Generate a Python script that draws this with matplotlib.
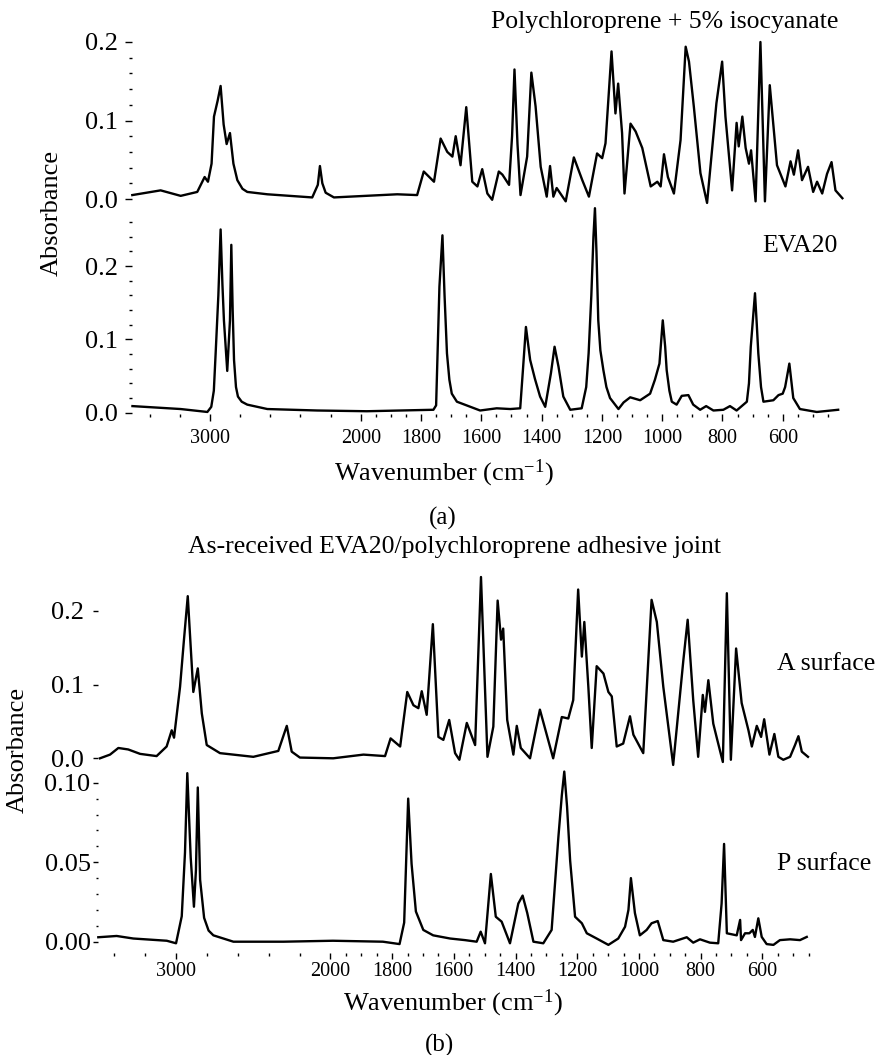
import numpy as np
import matplotlib
matplotlib.use('Agg')
import matplotlib.pyplot as plt
from matplotlib.ticker import FixedLocator, FuncFormatter, MultipleLocator, NullLocator

plt.rcParams['font.family'] = ['Liberation Serif', 'DejaVu Serif']
plt.rcParams['mathtext.fontset'] = 'custom'
plt.rcParams['mathtext.rm'] = 'Liberation Serif'
plt.rcParams['mathtext.it'] = 'Liberation Serif:italic'

# (a) polychloroprene + 5% isocyanate
pc_wn = [
    3516, 3328, 3195, 3085, 3036, 3014, 2990, 2974, 2950, 2930,
    2910, 2890, 2868, 2845, 2819, 2785, 2753, 2620, 2322, 2285,
    2271, 2255, 2233, 2178, 1879, 1813, 1791, 1757, 1735, 1713,
    1696, 1685, 1669, 1650, 1630, 1613, 1597, 1580, 1564, 1542,
    1530, 1508, 1498, 1490, 1480, 1470, 1448, 1434, 1420, 1403,
    1383, 1372, 1361, 1350, 1320, 1293, 1265, 1243, 1216, 1199,
    1188, 1168, 1155, 1146, 1133, 1125, 1105, 1088, 1066, 1038,
    1016, 1005, 994, 981, 961, 939, 922, 911, 895, 873,
    851, 820, 801, 790, 768, 753, 746, 734, 723, 712,
    705, 690, 674, 659, 643, 619, 591, 574, 563, 549,
    536, 516, 499, 486, 469, 453, 438, 425, 402]
pc_abs = [
    0.005, 0.011, 0.004, 0.009, 0.028, 0.022, 0.045, 0.105, 0.125, 0.144,
    0.095, 0.070, 0.084, 0.045, 0.024, 0.013, 0.009, 0.006, 0.002, 0.018,
    0.042, 0.020, 0.008, 0.002, 0.006, 0.005, 0.035, 0.022, 0.077, 0.060,
    0.054, 0.080, 0.043, 0.117, 0.022, 0.016, 0.038, 0.007, -0.001, 0.035,
    0.031, 0.018, 0.080, 0.165, 0.070, 0.005, 0.054, 0.161, 0.118, 0.041,
    0.003, 0.042, 0.003, 0.014, -0.003, 0.053, 0.024, 0.003, 0.058, 0.052,
    0.071, 0.188, 0.109, 0.147, 0.084, 0.007, 0.096, 0.086, 0.065, 0.016,
    0.022, 0.016, 0.057, 0.028, 0.007, 0.075, 0.194, 0.175, 0.118, 0.033,
    -0.005, 0.122, 0.175, 0.105, 0.011, 0.097, 0.067, 0.105, 0.065, 0.045,
    0.062, -0.003, 0.200, -0.003, 0.145, 0.043, 0.016, 0.048, 0.031, 0.062,
    0.024, 0.041, 0.009, 0.022, 0.007, 0.032, 0.047, 0.011, 0.001]

# (a) EVA20
eva_wn = [
    3515, 3195, 3018, 2992, 2975, 2963, 2945, 2930, 2918, 2908,
    2886, 2868, 2859, 2850, 2841, 2828, 2815, 2790, 2753, 2620,
    2289, 1980, 1759, 1750, 1739, 1729, 1722, 1714, 1706, 1698,
    1681, 1604, 1549, 1504, 1471, 1462, 1452, 1438, 1422, 1405,
    1388, 1369, 1357, 1344, 1328, 1305, 1267, 1252, 1244, 1235,
    1228, 1223, 1218, 1212, 1205, 1195, 1185, 1173, 1145, 1128,
    1106, 1073, 1040, 1024, 1009, 998, 990, 985, 976, 968,
    952, 935, 913, 897, 874, 854, 830, 797, 775, 753,
    719, 712, 706, 692, 686, 681, 672, 664, 631, 614,
    600, 592, 578, 565, 543, 487, 416]
eva_abs = [
    0.009, 0.005, 0.001, 0.008, 0.030, 0.081, 0.160, 0.250, 0.175, 0.126,
    0.057, 0.126, 0.229, 0.140, 0.072, 0.035, 0.022, 0.015, 0.011, 0.005,
    0.003, 0.002, 0.004, 0.010, 0.172, 0.242, 0.160, 0.081, 0.045, 0.026,
    0.015, 0.003, 0.006, 0.005, 0.006, 0.058, 0.117, 0.072, 0.046, 0.022,
    0.008, 0.054, 0.090, 0.063, 0.022, 0.004, 0.006, 0.035, 0.081, 0.160,
    0.240, 0.279, 0.220, 0.126, 0.085, 0.058, 0.035, 0.020, 0.005, 0.014,
    0.021, 0.017, 0.026, 0.045, 0.067, 0.126, 0.090, 0.058, 0.030, 0.015,
    0.011, 0.023, 0.024, 0.011, 0.004, 0.009, 0.003, 0.004, 0.009, 0.003,
    0.015, 0.040, 0.090, 0.163, 0.120, 0.081, 0.035, 0.015, 0.017, 0.024,
    0.026, 0.035, 0.067, 0.020, 0.005, 0.001, 0.004]

# (b) A surface
as_wn = [
    3494, 3429, 3375, 3311, 3234, 3127, 3062, 3029, 3014, 2975,
    2950, 2925, 2889, 2860, 2834, 2802, 2716, 2500, 2338, 2283,
    2251, 2198, 1991, 1893, 1823, 1805, 1774, 1751, 1731, 1715,
    1704, 1688, 1668, 1650, 1634, 1615, 1596, 1582, 1558, 1531,
    1512, 1491, 1472, 1458, 1447, 1440, 1427, 1407, 1396, 1383,
    1353, 1321, 1278, 1250, 1229, 1213, 1197, 1185, 1177, 1164,
    1153, 1137, 1115, 1099, 1088, 1072, 1051, 1029, 1018, 986,
    959, 942, 921, 889, 856, 842, 824, 808, 793, 786,
    775, 759, 746, 728, 715, 702, 685, 667, 645, 634,
    618, 604, 594, 577, 561, 548, 532, 510, 494, 483,
    472, 452]
as_abs = [
    0.000, 0.005, 0.014, 0.012, 0.006, 0.003, 0.016, 0.038, 0.028, 0.097,
    0.160, 0.220, 0.090, 0.122, 0.061, 0.018, 0.007, 0.002, 0.010, 0.044,
    0.009, 0.001, 0.000, 0.005, 0.003, 0.027, 0.016, 0.090, 0.072, 0.068,
    0.091, 0.059, 0.182, 0.029, 0.025, 0.052, 0.007, -0.002, 0.048, 0.018,
    0.246, 0.002, 0.043, 0.214, 0.161, 0.176, 0.052, 0.005, 0.044, 0.014,
    0.000, 0.066, 0.000, 0.056, 0.054, 0.079, 0.229, 0.138, 0.185, 0.097,
    0.014, 0.125, 0.115, 0.090, 0.084, 0.016, 0.020, 0.057, 0.032, 0.007,
    0.215, 0.185, 0.097, -0.009, 0.133, 0.188, 0.079, 0.002, 0.086, 0.063,
    0.106, 0.047, 0.025, -0.005, 0.224, -0.002, 0.149, 0.075, 0.038, 0.016,
    0.044, 0.029, 0.053, 0.005, 0.033, 0.002, -0.002, 0.002, 0.018, 0.030,
    0.009, 0.002]

# (b) P surface
ps_wn = [
    3505, 3386, 3278, 3061, 3001, 2964, 2943, 2928, 2906, 2885,
    2872, 2860, 2845, 2819, 2790, 2759, 2629, 2305, 1992, 1830,
    1776, 1761, 1748, 1737, 1723, 1699, 1667, 1612, 1564, 1526,
    1513, 1499, 1480, 1464, 1445, 1418, 1391, 1377, 1362, 1342,
    1310, 1283, 1261, 1250, 1242, 1233, 1223, 1207, 1185, 1169,
    1137, 1099, 1067, 1045, 1034, 1026, 1013, 997, 975, 959,
    939, 921, 889, 845, 824, 802, 770, 743, 732, 724,
    715, 683, 672, 669, 656, 642, 631, 624, 613, 602,
    586, 564, 543, 510, 478, 456]
ps_abs = [
    0.0028, 0.0036, 0.0020, 0.0006, -0.0010, 0.0160, 0.0560, 0.1060, 0.0530, 0.0220,
    0.0450, 0.0970, 0.0390, 0.0150, 0.0070, 0.0040, 0.0000, 0.0000, 0.0006, 0.0000,
    -0.0015, 0.0120, 0.0900, 0.0490, 0.0190, 0.0074, 0.0040, 0.0020, 0.0010, 0.0000,
    0.0063, -0.0010, 0.0426, 0.0157, 0.0126, -0.0010, 0.0240, 0.0290, 0.0180, 0.0000,
    -0.0010, 0.0074, 0.0660, 0.0920, 0.1070, 0.0850, 0.0510, 0.0157, 0.0116, 0.0053,
    0.0020, -0.0020, 0.0020, 0.0094, 0.0200, 0.0400, 0.0180, 0.0040, 0.0074, 0.0116,
    0.0130, 0.0010, 0.0000, 0.0028, -0.0006, 0.0015, -0.0006, -0.0010, 0.0240, 0.0615,
    0.0053, 0.0040, 0.0137, 0.0010, 0.0053, 0.0053, 0.0074, 0.0030, 0.0147, 0.0030,
    -0.0015, -0.0020, 0.0010, 0.0015, 0.0010, 0.0030]

major_wn = [3000, 2000, 1800, 1600, 1400, 1200, 1000, 800, 600]
minor_wn = [3400, 3200, 2800, 2600, 2400, 2200] + \
    [w for w in range(1950, 449, -50) if w % 200 != 0]

W, H = 883, 1055
fig = plt.figure(figsize=(W / 100, H / 100), dpi=100)


# scale change at 2000 cm-1 (upper part compressed 2x)
def fwd(w):
    w = np.asarray(w, dtype=float)
    return np.where(w > 2000, 2000 + (w - 2000) / 2.0, w)


def inv(u):
    u = np.asarray(u, dtype=float)
    return np.where(u > 2000, 2000 + (u - 2000) * 2.0, u)


def add_ax(x0, x1, xlim, y0, scale, ylim):
    bot = y0 - ylim[0] * scale
    top = y0 - ylim[1] * scale
    ax = fig.add_axes([x0 / W, 1 - bot / H, (x1 - x0) / W, (bot - top) / H])
    ax.patch.set_visible(False)
    ax.set_xscale('function', functions=(fwd, inv))
    ax.set_xlim(*xlim)
    ax.set_ylim(*ylim)
    for s in ax.spines.values():
        s.set_visible(False)
    return ax


def x_ticks(ax, show, L, pad):
    if not show:
        ax.xaxis.set_major_locator(NullLocator())
        ax.xaxis.set_minor_locator(NullLocator())
        return
    ax.xaxis.set_major_locator(FixedLocator(major_wn))
    ax.xaxis.set_minor_locator(FixedLocator(minor_wn))
    ax.xaxis.set_major_formatter(FuncFormatter(lambda v, p: '%d' % round(v)))
    ax.tick_params(axis='x', which='major', direction='out', length=L, width=1.0,
                   pad=pad, labelsize=14.5)
    ax.tick_params(axis='x', which='minor', direction='out', length=L / 2, width=1.0)


def y_ticks(ax, major, minor, fmt, L, pad):
    ax.yaxis.set_major_locator(MultipleLocator(major))
    if minor:
        ax.yaxis.set_minor_locator(MultipleLocator(minor))
    ax.yaxis.set_major_formatter(FuncFormatter(lambda v, p: fmt % v if abs(v) > 1e-9 else fmt % 0))
    ax.tick_params(axis='y', which='major', direction='out', length=L, width=1.0,
                   pad=pad, labelsize=19)
    ax.tick_params(axis='y', which='minor', direction='out', length=L / 2, width=1.0)


lw = 1.7

# ---- panel (a)
xa = (131.7, 843, (3520, 400))
ax1 = add_ax(*xa, 199, 785, (-0.01, 0.215))
ax1.plot(pc_wn, pc_abs, color='black', lw=lw, clip_on=False)
x_ticks(ax1, False, 0, 0)
y_ticks(ax1, 0.1, 0.02, '%.1f', 5, 5)

ax2 = add_ax(*xa, 412.7, 733, (-0.002, 0.27))
ax2.plot(eva_wn, eva_abs, color='black', lw=lw, clip_on=False)
x_ticks(ax2, True, 5, 5.5)
y_ticks(ax2, 0.1, 0.02, '%.1f', 5, 5)

# ---- panel (b)
xb = (98.3, 808.6, (3505, 450))
ax3 = add_ax(*xb, 758.3, 737, (-0.012, 0.25))
ax3.plot(as_wn, as_abs, color='black', lw=lw, clip_on=False)
x_ticks(ax3, False, 0, 0)
y_ticks(ax3, 0.1, None, '%.1f', 3.6, 6.5)
ax3.yaxis.set_minor_locator(NullLocator())

ax4 = add_ax(*xb, 941.7, 1590, (-0.007, 0.108))
ax4.plot(ps_wn, ps_abs, color='black', lw=lw, clip_on=False)
x_ticks(ax4, True, 4, 2.5)
y_ticks(ax4, 0.05, 0.01, '%.2f', 3.6, 2)


def ftext(x, y, s, **kw):
    fig.text(x / W, 1 - y / H, s, **kw)


ftext(838, 28, 'Polychloroprene + 5% isocyanate', ha='right', va='baseline', fontsize=18.5)
ftext(838, 252, 'EVA20', ha='right', va='baseline', fontsize=18.5)
ftext(52, 213, 'Absorbance', rotation=90, ha='center', va='center', fontsize=19)
ftext(444, 473, 'Wavenumber (cm$^{-1}$)', ha='center', va='center', fontsize=19)
ftext(443, 518, '(a)', ha='center', va='center', fontsize=18)

ftext(454, 553, 'As-received EVA20/polychloroprene adhesive joint', ha='center',
      va='baseline', fontsize=18.5)
ftext(777, 670, 'A surface', ha='left', va='baseline', fontsize=18.5)
ftext(777, 870, 'P surface', ha='left', va='baseline', fontsize=18.5)
ftext(18, 750, 'Absorbance', rotation=90, ha='center', va='center', fontsize=19)
ftext(453, 1003, 'Wavenumber (cm$^{-1}$)', ha='center', va='center', fontsize=19)
ftext(440, 1045, '(b)', ha='center', va='center', fontsize=18)

fig.savefig('out.png', dpi=100, facecolor='white')
